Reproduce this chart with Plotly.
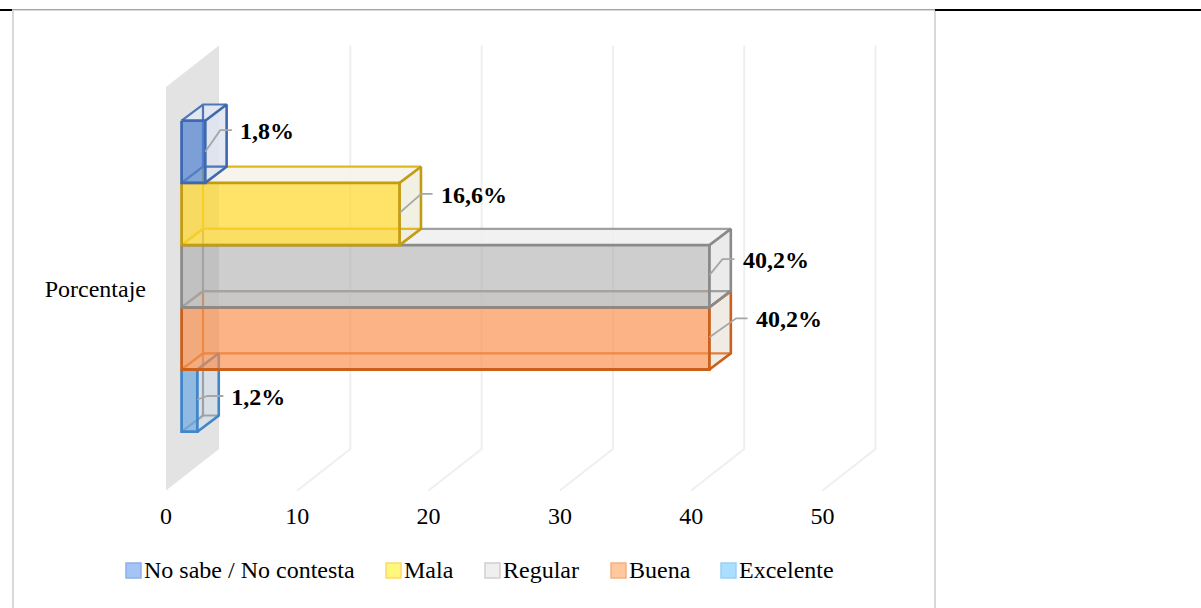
import plotly.graph_objects as go

# ---- data ----
category = ["Porcentaje"]
series = ["No sabe / No contesta", "Mala", "Regular", "Buena", "Excelente"]
values = [1.8, 16.6, 40.2, 40.2, 1.2]
labels = ["1,8%", "16,6%", "40,2%", "40,2%", "1,2%"]
x_ticks = [0, 10, 20, 30, 40, 50]

# ---- styles ----
edge = ["#3f68b0", "#c29c12", "#8a8a8a", "#c9611c", "#4286c8"]
back_edge = ["#4f76b8", "#e0b820", "#a0a0a0", "#e0803a", "#9aa3ad"]
front = ["rgba(80,130,210,.7)", "rgba(255,215,40,.7)", "rgba(165,165,165,.55)",
         "rgba(250,140,70,.65)", "rgba(100,165,225,.65)"]
side = ["rgba(222,228,240,.85)", "rgba(240,236,222,.85)", "rgba(232,232,232,.85)",
        "rgba(239,231,226,.85)", "rgba(214,222,232,.75)"]
topf = ["rgba(226,232,242,.85)", "rgba(245,242,231,.85)", "rgba(239,239,239,.85)",
        "rgba(239,232,226,.6)", "rgba(230,236,244,.6)"]
leg_fill = ["#a4c4f5", "#fff87c", "#efefef", "#ffc89f", "#abdfff"]
leg_line = ["#8fb0e8", "#ffd966", "#d0d0d0", "#f4b183", "#9dd0f5"]
leg_swatch_px = [126, 386, 485, 611, 721]
FONT = "Liberation Serif"
FS = 24

W, H = 1201, 608
PX_UNIT = 13.13   # pixels per axis unit
PX_SLOT = 62.2    # pixels per bar slot
X0 = 166.0        # pixel of axis zero
Y0 = 120.7        # pixel of first slot


def xp(px):
    return (px - X0) / PX_UNIT


def yp(py):
    return (py - Y0) / PX_SLOT


BAR_START = 15.6 / PX_UNIT
DX = 21.4 / PX_UNIT
DY = -16.2 / PX_SLOT
WALL_DX = 53 / PX_UNIT
WALL_DY = -41.5 / PX_SLOT
WALL_TOP = yp(87)
WALL_BOT = yp(490.5)

# leader geometry (pixel nudges relative to the bar end / slot)
lead_start_dy = [31, 30, 30, 30, 30]
lead_elbow = [(15, 9.5), (21.7, 11), (13, 14), (26.7, 11), (10, 26.5)]
lead_len = [11.7, 11.3, 12, 11.3, 16]
label_gap = [8, 8.5, 8.5, 8.5, 8]
LABEL_DROP = 3

fig = go.Figure()


def poly(xs, ys, fill, line=None, lw=0, name=None):
    fig.add_trace(go.Scatter(
        x=xs, y=ys, mode="lines", fill="toself" if fill else None, fillcolor=fill,
        line=dict(color=line or "rgba(0,0,0,0)", width=lw),
        hoverinfo="skip", showlegend=False, name=name))


# wall
poly([0, WALL_DX, WALL_DX, 0, 0],
     [WALL_TOP, WALL_TOP + WALL_DY, WALL_BOT + WALL_DY, WALL_BOT, WALL_TOP],
     "#e3e3e3")

# gridlines
for t in x_ticks[1:]:
    poly([t, t + WALL_DX, t + WALL_DX],
         [WALL_BOT, WALL_BOT + WALL_DY, WALL_TOP + WALL_DY],
         None, "#efefef", 2)

# back of boxes: side, top and hidden edges
for i in reversed(range(len(series))):
    a, b = BAR_START, BAR_START + values[i]
    t, u = i, i + 1
    poly([b, b + DX, b + DX, b, b], [t, t + DY, u + DY, u, t], side[i], name=series[i])
    poly([a, a + DX, b + DX, b, a], [t, t + DY, t + DY, t, t], topf[i], name=series[i])
    poly([a, a + DX, b + DX, None, a + DX, a + DX, b + DX, None, a, a + DX],
         [t, t + DY, t + DY, None, t + DY, u + DY, u + DY, None, u, u + DY],
         None, back_edge[i], 2.2, name=series[i])

# fronts and outer edges
for i in reversed(range(len(series))):
    a, b = BAR_START, BAR_START + values[i]
    t, u = i, i + 1
    poly([a, b, b, a, a], [t, t, u, u, t], front[i], edge[i], 2.8, name=series[i])
    poly([b, b + DX, b + DX, b],
         [t, t + DY, u + DY, u],
         None, edge[i], 2.6, name=series[i])

# leaders + labels
for i in range(len(series)):
    b = BAR_START + values[i]
    sx, sy = b, i + lead_start_dy[i] / PX_SLOT
    ex = b + lead_elbow[i][0] / PX_UNIT
    ey = i + lead_elbow[i][1] / PX_SLOT
    ax = ex + lead_len[i] / PX_UNIT
    poly([sx, ex, ax], [sy, ey, ey], None, "#a6a6a6", 1.8)
    fig.add_trace(go.Scatter(
        x=[ax + label_gap[i] / PX_UNIT], y=[ey + LABEL_DROP / PX_SLOT], mode="text",
        text=[labels[i]], textposition="middle right",
        textfont=dict(family=FONT, size=FS, color="#000000", weight="bold"),
        hoverinfo="skip", showlegend=False))

# frame + legend swatches
shapes = []


def rect(x0, y0, x1, y1, fill, line=None, lw=0):
    shapes.append(dict(type="rect", xref="paper", yref="paper", x0=x0 / W, x1=x1 / W,
                       y0=1 - y0 / H, y1=1 - y1 / H, fillcolor=fill,
                       line=dict(color=line or "rgba(0,0,0,0)", width=lw)))


rect(0, 9, 12, 11, "#000000")
rect(935, 9, 1201, 11, "#000000")
rect(12, 9, 935, 10, "#a6a6a6")
rect(12, 10, 935, 11, "#d9d9d9")
rect(12, 11, 14, 608, "#d9d9d9")
rect(934, 11, 936, 608, "#d9d9d9")

annotations = []
for i, name in enumerate(series):
    sx = leg_swatch_px[i]
    rect(sx, 563, sx + 15, 578, leg_fill[i], leg_line[i], 1.5)
    annotations.append(dict(xref="paper", yref="paper", x=(sx + 18) / W, y=1 - 570 / H,
                            text=name, showarrow=False, xanchor="left", yanchor="middle",
                            borderpad=0, borderwidth=0,
                            font=dict(family=FONT, size=FS, color="#000000")))

fig.update_layout(
    width=W, height=H, margin=dict(l=0, r=0, t=0, b=0),
    autosize=False,
    paper_bgcolor="#ffffff", plot_bgcolor="rgba(0,0,0,0)",
    showlegend=False, shapes=shapes, annotations=annotations,
    font=dict(family=FONT, size=FS, color="#000000"),
    xaxis=dict(range=[xp(0), xp(W)], tickmode="array", tickvals=x_ticks,
               ticktext=[str(v) for v in x_ticks], showgrid=False, zeroline=False,
               showline=False, ticks="", anchor="free", position=1 - 499 / H,
               tickfont=dict(family=FONT, size=FS, color="#000000")),
    yaxis=dict(range=[yp(H), yp(0)], tickmode="array", tickvals=[yp(289)],
               ticktext=category, showgrid=False, zeroline=False, showline=False,
               ticks="", anchor="free", position=146 / W,
               tickfont=dict(family=FONT, size=FS, color="#000000")),
)

fig.write_html("out.html", config={"displayModeBar": False},
               post_script="document.body.style.margin='0';document.documentElement.style.overflow='hidden';")
